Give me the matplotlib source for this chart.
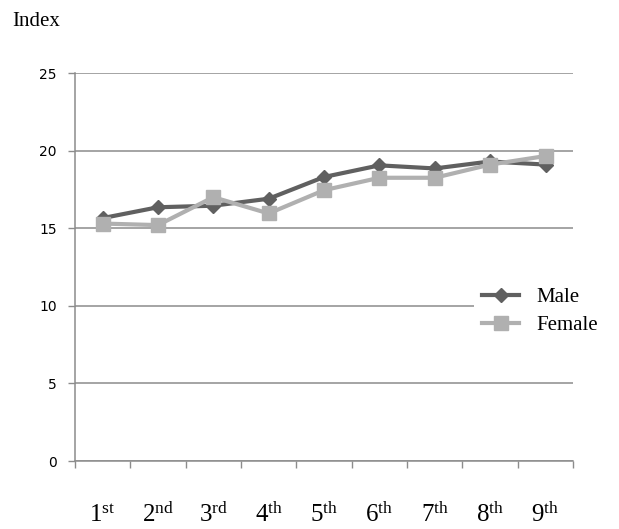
import matplotlib
matplotlib.use("Agg")
import matplotlib.pyplot as plt
import numpy as np

categories = ["1", "2", "3", "4", "5", "6", "7", "8", "9"]
suffixes = ["st", "nd", "rd", "th", "th", "th", "th", "th", "th"]
male = [15.65, 16.35, 16.45, 16.9, 18.3, 19.05, 18.85, 19.3, 19.1]
female = [15.3, 15.2, 17.0, 15.95, 17.45, 18.25, 18.25, 19.1, 19.65]
yticks = [0, 5, 10, 15, 20, 25]

plt.rcParams['mathtext.fontset'] = 'custom'
plt.rcParams['mathtext.rm'] = 'Liberation Serif'
plt.rcParams['mathtext.it'] = 'Liberation Serif:italic'

fig = plt.figure(figsize=(6.19, 5.29), dpi=100)
ax = fig.add_axes([0.121, 0.1285, 0.805, 0.7335])

x = np.arange(len(categories))
ax.plot(x, male, color='#606060', lw=3.0, marker='D', ms=7.5, label='Male', zorder=3)
ax.plot(x, female, color='#b0b0b0', lw=3.0, marker='s', ms=9.5, label='Female', zorder=4)

ax.set_xlim(-0.5, len(categories) - 0.5)
ax.set_ylim(0, 25)
ax.set_yticks(yticks)
ax.set_yticklabels([str(v) for v in yticks], fontsize=10, family='DejaVu Sans')
ax.yaxis.grid(True, color='#8c8c8c', lw=1.1)
ax.set_axisbelow(True)

ax.set_xticks(np.arange(len(categories) + 1) - 0.5)
ax.set_xticklabels([])
ax.set_xticks(x, minor=True)
ax.set_xticklabels([r"$\mathrm{%s^{%s}}$" % (c, s) for c, s in zip(categories, suffixes)],
                   minor=True, fontsize=18)
ax.tick_params(axis='x', which='minor', length=0, pad=30)
ax.tick_params(axis='x', which='major', length=5, color='#8c8c8c', width=1)
ax.tick_params(axis='y', length=5, color='#8c8c8c', width=1, pad=8)

for s in ['top', 'right']:
    ax.spines[s].set_visible(False)
for s in ['left', 'bottom']:
    ax.spines[s].set_color('#8c8c8c')
    ax.spines[s].set_linewidth(1.1)

fig.text(0.019, 0.96, "Index", family='Liberation Serif', fontsize=15, va='center')

leg = ax.legend(loc='center left', bbox_to_anchor=(0.8, 0.385), frameon=True,
                prop={'family': 'Liberation Serif', 'size': 15},
                handlelength=1.8, labelspacing=0.4, borderaxespad=0, handletextpad=0.8)
leg.get_frame().set_edgecolor('none')
leg.get_frame().set_facecolor('white')
leg.get_frame().set_alpha(1)

fig.savefig("out.png", dpi=100)
